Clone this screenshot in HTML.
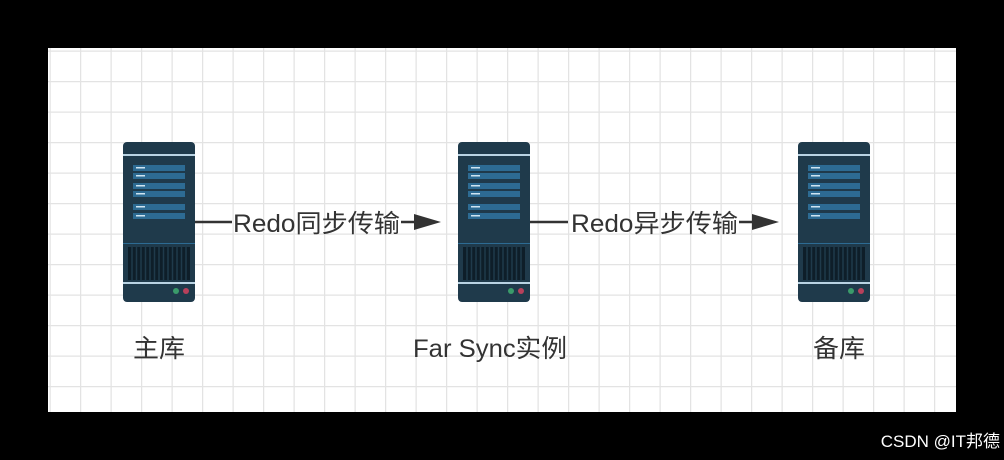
<!DOCTYPE html>
<html><head><meta charset="utf-8"><style>
html,body{margin:0;padding:0;background:#000;width:1004px;height:460px;overflow:hidden}
svg{display:block}
text{font-family:"Liberation Sans","Noto Sans CJK SC",sans-serif;fill:#333}
</style></head><body>
<svg width="1004" height="460" viewBox="0 0 1004 460" xmlns="http://www.w3.org/2000/svg">
<defs>
<pattern id="g" x="49.5" y="50.5" width="30.5" height="30.5" patternUnits="userSpaceOnUse">
<path d="M0 0H30.5M0 0V30.5" stroke="#e3e3e3" stroke-width="2.5" fill="none"/>
</pattern>
<g id="srv">
<rect x="0" y="0" width="72" height="160" rx="4" fill="#1f3a4b"/>
<rect x="0" y="12" width="72" height="2" fill="#b9d3e3"/>
<rect x="10" y="23" width="52" height="6" fill="#2d6b93"/>
<rect x="10" y="31" width="52" height="6" fill="#2d6b93"/>
<rect x="10" y="41" width="52" height="6" fill="#2d6b93"/>
<rect x="10" y="49" width="52" height="6" fill="#2d6b93"/>
<rect x="10" y="62" width="52" height="6" fill="#2d6b93"/>
<rect x="10" y="71" width="52" height="6" fill="#2d6b93"/>
<g fill="#cfe4f1"><rect x="13" y="25" width="9" height="1.5"/><rect x="13" y="33" width="9" height="1.5"/><rect x="13" y="43" width="9" height="1.5"/><rect x="13" y="51" width="9" height="1.5"/><rect x="13" y="64" width="9" height="1.5"/><rect x="13" y="73" width="9" height="1.5"/></g>
<rect x="0" y="101" width="72" height="1" fill="#2d6b93"/>
<rect x="5" y="105" width="62" height="33" fill="#0e1e29"/>
<g stroke="#1f3a4b" stroke-width="1.5">
<path d="M9 105v33M13.5 105v33M18 105v33M22.5 105v33M27 105v33M31.5 105v33M36 105v33M40.5 105v33M45 105v33M49.5 105v33M54 105v33M58.5 105v33M63 105v33"/>
</g>
<rect x="0" y="140" width="72" height="2" fill="#b9d3e3"/>
<circle cx="53" cy="149" r="3" fill="#3a9b6a"/>
<circle cx="63" cy="149" r="3" fill="#b8405b"/>
</g>
</defs>
<rect x="48" y="48" width="908" height="364" fill="#fff"/>
<rect x="48" y="48" width="908" height="364" fill="url(#g)"/>
<use href="#srv" x="123" y="142"/>
<use href="#srv" x="458" y="142"/>
<use href="#srv" x="798" y="142"/>
<g stroke="#333" stroke-width="2.5">
<path d="M195 222H232M401 222H416"/>
<path d="M530 222H568M739 222H754"/>
</g>
<path d="M414 214L441 222L414 230Z" fill="#333"/>
<path d="M752 214L779 222L752 230Z" fill="#333"/>
<text x="233" y="232" font-size="25" textLength="167" lengthAdjust="spacingAndGlyphs">Redo同步传输</text>
<text x="571" y="232" font-size="25" textLength="167" lengthAdjust="spacingAndGlyphs">Redo异步传输</text>
<text x="133" y="357" font-size="25" textLength="52" lengthAdjust="spacingAndGlyphs">主库</text>
<text x="413" y="357" font-size="25" textLength="154" lengthAdjust="spacingAndGlyphs">Far Sync实例</text>
<text x="813" y="357" font-size="25" textLength="52" lengthAdjust="spacingAndGlyphs">备库</text>
<text x="1000" y="447" font-size="17" text-anchor="end" style="fill:#fff">CSDN @IT邦德</text>
</svg>
</body></html>
